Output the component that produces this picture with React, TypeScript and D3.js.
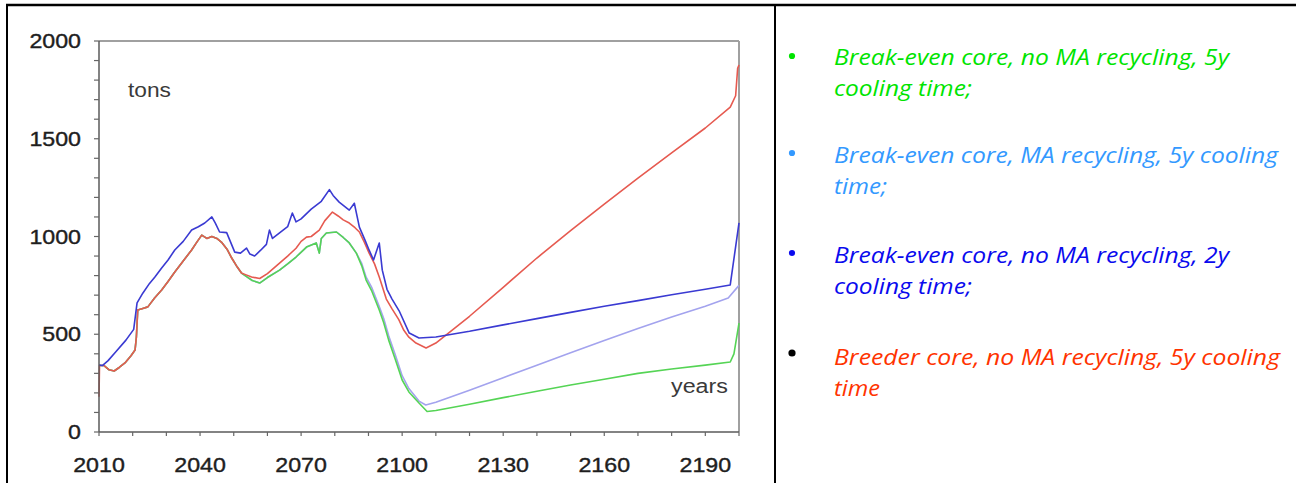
import React from 'react';
import * as d3 from 'd3';

type Pt = [number, number];

const W = 1296;
const H = 483;

// ---- data (year, tons) ----
// early segment shared by the breeder, no-MA and MA-recycling curves (they overlap)
const sharedEarly: Pt[] = [
  [2010.15, 340], [2011.5, 340], [2013, 318], [2014.5, 312], [2016, 330], [2017.7, 353],
  [2019.5, 390], [2020.7, 419], [2021.1, 486], [2021.5, 624], [2023, 632], [2024.5, 640],
  [2026.5, 685], [2028.6, 726], [2030.5, 770], [2032.5, 818], [2035, 875], [2037.5, 931],
  [2039, 970], [2040.5, 1007], [2042, 990], [2043.5, 1000], [2045, 990], [2046.4, 970],
  [2048, 935], [2049.4, 890], [2051, 845], [2052.3, 813],
];
const redStart: Pt[] = [[2010, 180]];
const redMid: Pt[] = [
  [2053.5, 805], [2055.3, 793], [2057.7, 785], [2060, 810], [2063.6, 864], [2066, 900],
  [2068.5, 940], [2070, 975], [2071.6, 997], [2073, 1000], [2075.4, 1033], [2077, 1080],
  [2079.3, 1125], [2081, 1105], [2082.5, 1085], [2084.3, 1069], [2086, 1045], [2087.3, 1023],
  [2088.8, 970], [2090.2, 915], [2091.8, 860], [2093.2, 793], [2095.3, 680], [2097, 630],
  [2099, 575], [2100.5, 520], [2102, 485], [2104.1, 455], [2107.1, 430],
];
const redTail: Pt[] = [
  [2110, 455], [2120, 592], [2130, 740], [2140, 890], [2150, 1030], [2160, 1165],
  [2170, 1298], [2180, 1428], [2190, 1555], [2197.4, 1662], [2199, 1720],
  [2199.6, 1860], [2200, 1877],
];
// plateau segment shared by the no-MA 5y and MA-recycling curves
const sharedMid: Pt[] = [
  [2053.8, 795], [2055.5, 775], [2057.7, 762], [2060, 790], [2063.6, 828], [2066, 860],
  [2068.5, 895], [2071.6, 946], [2074.5, 967], [2075.4, 915], [2076, 990], [2077.5, 1018],
  [2080.5, 1023], [2082.5, 995], [2084.3, 967], [2086.4, 915],
];
const greenTail: Pt[] = [
  [2088, 850], [2089.3, 777], [2091, 720], [2093.2, 624], [2094.5, 560], [2096, 470],
  [2098, 370], [2100, 266], [2102, 205], [2105, 148], [2107.4, 105], [2110, 110],
  [2120, 142], [2130, 176], [2140, 208], [2150, 240], [2160, 270], [2170, 300],
  [2180, 322], [2190, 342], [2197.4, 358], [2198.5, 400], [2200, 557],
];
const lightTail: Pt[] = [
  [2088, 862], [2089.3, 792], [2091, 738], [2093.2, 642], [2094.5, 582], [2096, 492],
  [2098, 392], [2100, 288], [2102, 222], [2105, 158], [2107, 138], [2110, 152],
  [2120, 214], [2130, 278], [2140, 342], [2150, 405], [2160, 468], [2170, 530],
  [2180, 588], [2190, 643], [2196.8, 685], [2200, 750],
];
const blueSeries: Pt[] = [
  [2010, 343], [2011, 340], [2012.7, 365], [2015, 410], [2018, 470], [2020.3, 525],
  [2021.3, 660], [2023, 710], [2025, 760], [2026.6, 793], [2028.6, 839], [2030.5, 880],
  [2032.5, 931], [2035, 975], [2037.5, 1033], [2039.5, 1050], [2041.4, 1069], [2043.5, 1100],
  [2044.5, 1070], [2045.8, 1023], [2047.9, 1020], [2050.3, 920], [2052, 915], [2053.8, 941],
  [2054.8, 910], [2056.2, 900], [2058, 930], [2059.7, 960], [2060.6, 1033], [2061.5, 990],
  [2063.6, 1018], [2066, 1050], [2067.4, 1120], [2068.5, 1075], [2070, 1090], [2073, 1140],
  [2076, 1180], [2078.4, 1240], [2079.5, 1210], [2081.3, 1176], [2084.3, 1135], [2085.8, 1170],
  [2087.3, 1048], [2089, 980], [2090.2, 930], [2091.5, 880], [2093.2, 967], [2094.1, 828],
  [2095.5, 730], [2097, 680], [2099.1, 620], [2102.1, 506], [2105, 481], [2110, 486],
  [2120, 515], [2130, 548], [2140, 580], [2150, 612], [2160, 643], [2170, 672],
  [2180, 702], [2190, 730], [2197.4, 752], [2200, 1070],
];

const redSeries: Pt[] = [...redStart, ...sharedEarly, ...redMid, ...redTail];
const greenSeries: Pt[] = [...sharedEarly, ...sharedMid, ...greenTail];
const lightSeries: Pt[] = [...sharedEarly, ...sharedMid, ...lightTail];

const yLabelValues = [0, 500, 1000, 1500, 2000];
const xLabelYears = [2010, 2040, 2070, 2100, 2130, 2160, 2190];

const legendItems = [
  { lines: ['Break-even core, no MA recycling, 5y', 'cooling time;'], color: '#00e400', bullet: '#00e400' },
  { lines: ['Break-even core, MA recycling, 5y cooling', 'time;'], color: '#3399ff', bullet: '#3399ff' },
  { lines: ['Break-even core, no MA recycling, 2y', 'cooling time;'], color: '#0a0aee', bullet: '#0a0aee' },
  { lines: ['Breeder core, no MA recycling, 5y cooling', 'time'], color: '#ff3300', bullet: '#000000' },
];
const legendWidths = [[395, 138], [444, 53], [395, 138], [446, 46]];

const seriesStyles = [
  { data: lightSeries, color: '#a3a3ee' },
  { data: greenSeries, color: '#55d455' },
  { data: redSeries, color: '#e65a50' },
  { data: blueSeries, color: '#3a3ad2' },
];

export default function App() {
  const x = d3.scaleLinear().domain([2010, 2200]).range([99, 739]);
  const y = d3.scaleLinear().domain([0, 2000]).range([432, 41]);
  const line = d3.line<Pt>().x(d => x(d[0])).y(d => y(d[1]));
  const xTicks = d3.range(2010, 2201, 10);
  const yTicks = d3.range(0, 2001, 100);
  const tickFont = '"Liberation Sans", Arial, sans-serif';
  const legFont = '"Open Sans", "Noto Sans", sans-serif';

  const legendTop = [65, 163, 263, 365];
  const legendLineGap = 31;
  const bulletY = [56, 153, 253, 353];

  return (
    <svg width={W} height={H} style={{ position: 'absolute', left: 0, top: 0, background: '#fff' }}>
      {/* table borders */}
      <line x1={6} x2={W} y1={5} y2={5} stroke="#000" strokeWidth={2.5} />
      <line x1={7} x2={7} y1={4} y2={H} stroke="#000" strokeWidth={2} />
      <line x1={775} x2={775} y1={4} y2={H} stroke="#000" strokeWidth={2} />

      {/* plot frame */}
      <line x1={x(2010)} x2={x(2200)} y1={y(2000)} y2={y(2000)} stroke="#a0a0a0" strokeWidth={2} />
      <line x1={x(2200)} x2={x(2200)} y1={y(2000)} y2={y(0)} stroke="#a0a0a0" strokeWidth={2} />

      {/* series */}
      {seriesStyles.map((s, i) => (
        <path key={i} d={line(s.data) || ''} fill="none" stroke={s.color} strokeWidth={1.6} strokeLinejoin="round" />
      ))}

      {/* axes */}
      <line x1={x(2010)} x2={x(2010)} y1={y(2000)} y2={y(0)} stroke="#5a5a5a" strokeWidth={1.5} />
      <line x1={x(2010)} x2={x(2200)} y1={y(0)} y2={y(0)} stroke="#5a5a5a" strokeWidth={1.5} />
      {yTicks.map(v => (
        <line key={'yt' + v} x1={x(2010) - 5} x2={x(2010)} y1={y(v)} y2={y(v)} stroke="#666" strokeWidth={1.2} />
      ))}
      {xTicks.map(v => (
        <line key={'xt' + v} x1={x(v)} x2={x(v)} y1={y(0)} y2={y(0) + 4} stroke="#666" strokeWidth={1.2} />
      ))}
      {yLabelValues.map(v => {
        const s = String(v);
        return (
          <text key={'yl' + v} x={81} y={y(v) + 7} textAnchor="end" fontFamily={tickFont} fontSize={21}
            fill="#1e1e1e" stroke="#1e1e1e" strokeWidth={0.4}
            textLength={s.length * 12.9} lengthAdjust="spacingAndGlyphs">{s}</text>
        );
      })}
      {xLabelYears.map(v => (
        <text key={'xl' + v} x={x(v)} y={472} textAnchor="middle" fontFamily={tickFont} fontSize={21}
          fill="#1e1e1e" stroke="#1e1e1e" strokeWidth={0.4}
          textLength={51.6} lengthAdjust="spacingAndGlyphs">{v}</text>
      ))}
      <text x={128} y={97} fontFamily={tickFont} fontSize={20} fill="#3a3a3a" textLength={43} lengthAdjust="spacingAndGlyphs">tons</text>
      <text x={671} y={393} fontFamily={tickFont} fontSize={20} fill="#3a3a3a" textLength={57} lengthAdjust="spacingAndGlyphs">years</text>

      {/* legend */}
      {legendItems.map((it, i) => (
        <g key={'lg' + i}>
          <circle cx={792} cy={bulletY[i]} r={i === 3 ? 3.6 : 3.1} fill={it.bullet} />
          {it.lines.map((t, j) => (
            <text key={j} x={834} y={legendTop[i] + j * legendLineGap} fontFamily={legFont} fontStyle="italic"
              fontSize={21} fill={it.color} textLength={legendWidths[i][j]} lengthAdjust="spacingAndGlyphs">{t}</text>
          ))}
        </g>
      ))}
    </svg>
  );
}
